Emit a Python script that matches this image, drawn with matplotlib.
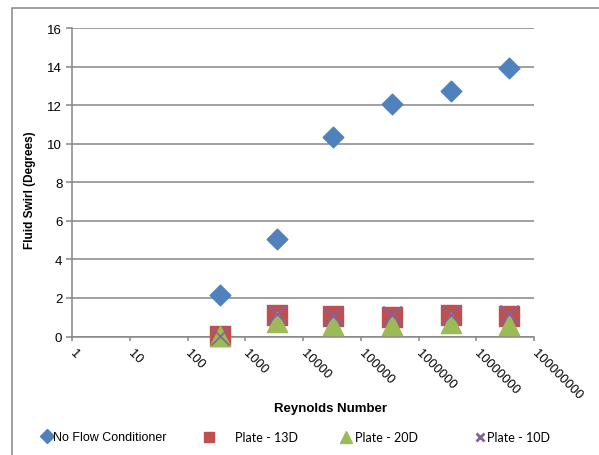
import matplotlib.pyplot as plt
from matplotlib.lines import Line2D
from matplotlib.patches import Rectangle

reynolds = [360, 3500, 33000, 350000, 3700000, 37000000]
no_flow = [2.15, 5.04, 10.37, 12.09, 12.75, 13.93]
plate_13d = [0.03, 1.14, 1.04, 1.03, 1.1, 1.07]
plate_20d = [0.05, 0.75, 0.62, 0.62, 0.7, 0.6]
plate_10d = [0.05, 1.18, 1.08, 1.1, 1.14, 1.16]

x_ticks = [1, 10, 100, 1000, 10000, 100000, 1000000, 10000000, 100000000]
y_ticks = [0, 2, 4, 6, 8, 10, 12, 14, 16]

grey = "#868686"
plt.rcParams["font.family"] = ["Liberation Sans", "DejaVu Sans"]

fig = plt.figure(figsize=(5.99, 4.56), dpi=100)
ax = fig.add_axes([72 / 599, 1 - 337.5 / 456, 462 / 599, 308.3 / 456])

# chart area border (runs off the right and bottom edges of the crop)
fig.patches.append(Rectangle((12 / 599, -0.1), 1.2, 1.1 - 9 / 456,
                             transform=fig.transFigure, fill=False,
                             edgecolor=grey, lw=1.1, clip_on=False))

ax.scatter(reynolds, no_flow, marker="D", s=10.5 ** 2, color="#4F81BD",
           zorder=3, clip_on=False)
ax.scatter(reynolds, plate_13d, marker="s", s=14.5 ** 2, color="#C0504D",
           zorder=4, clip_on=False)
ax.scatter(reynolds, plate_20d, marker="^", s=14.5 ** 2, color="#9BBB59",
           zorder=5, clip_on=False)
ax.scatter(reynolds, plate_10d, marker="x", s=13 ** 2, color="#8064A2",
           linewidths=1.2, zorder=6, clip_on=False)

ax.set_xscale("log")
ax.set_xlim(1, 100000000)
ax.set_ylim(0, 16)
ax.set_xticks(x_ticks)
ax.set_xticklabels([str(v) for v in x_ticks], rotation=-45, ha="left",
                   va="center", rotation_mode="anchor", fontsize=9.3)
ax.minorticks_off()
ax.set_yticks(y_ticks)
ax.set_yticklabels([str(v) for v in y_ticks], fontsize=9.5)

ax.grid(axis="y", color=grey, lw=1.1)
ax.set_axisbelow(True)
for side in ["top", "right"]:
    ax.spines[side].set_visible(False)
for side in ["left", "bottom"]:
    ax.spines[side].set_color(grey)
    ax.spines[side].set_linewidth(1.1)
ax.tick_params(axis="y", length=4, width=1.1, color=grey, pad=3)
ax.tick_params(axis="x", length=3, width=1.1, color=grey, pad=7)

fig.text(30 / 599, 1 - 190 / 456, "Fluid Swirl (Degrees)", rotation=90,
         ha="center", va="center", fontsize=8.5, fontweight="bold")
fig.text(331 / 599, 1 - 409 / 456, "Reynolds Number", ha="center",
         va="center", fontsize=9.5, fontweight="bold")

# legend, one entry at a time so each sits where the reference has it
entries = [
    ("D", "#4F81BD", 7, "No Flow Conditioner", 43, "Liberation Sans", 2),
    ("s", "#C0504D", 7.5, "Plate - 13D", 205, "Lato", 16),
    ("^", "#9BBB59", 8, "Plate - 20D", 342, "Lato", 4),
    ("x", "#8064A2", 6, "Plate - 10D", 476, "Lato", 2.5),
]
for mk, col, ms, label, xpos, fam, pad in entries:
    h = Line2D([], [], ls="none", marker=mk, color=col, markersize=ms,
               markeredgewidth=2 if mk == "x" else 1)
    fig.legend(handles=[h], labels=[label], loc="center left",
               bbox_to_anchor=(xpos / 599, 1 - 438 / 456), frameon=False,
               handlelength=0.6, handletextpad=pad / 9, borderpad=0,
               borderaxespad=0, prop={"family": fam, "size": 9})

fig.savefig("out.png", dpi=100)
